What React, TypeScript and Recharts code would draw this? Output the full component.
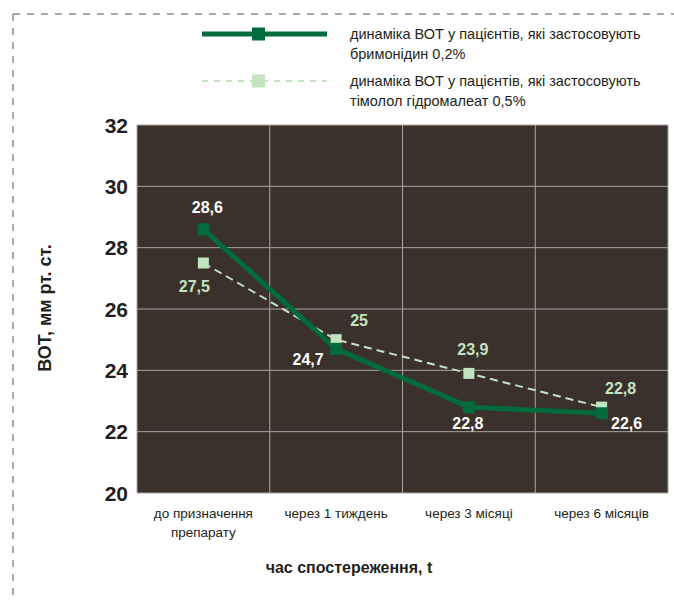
import { LineChart, Line, XAxis, YAxis, CartesianGrid, LabelList } from 'recharts'

const categories = ['до призначення|препарату', 'через 1 тиждень', 'через 3 місяці', 'через 6 місяців']
const brimonidine = [28.6, 24.7, 22.8, 22.6]
const timolol = [27.5, 25, 23.9, 22.8]
const yTicks = [20, 22, 24, 26, 28, 30, 32]
const legendLines = [
  ['динаміка ВОТ у пацієнтів, які застосовують', 'бримонідин 0,2%'],
  ['динаміка ВОТ у пацієнтів, які застосовують', 'тімолол гідромалеат 0,5%'],
]

const FONT = '"Liberation Sans", Arial, sans-serif'
const DARK = '#006b3d'
const LIGHT = '#c4e3c0'
const TEXT = '#231f20'

const data = categories.map((c, i) => ({ cat: c, s1: brimonidine[i], s2: timolol[i] }))

// label offsets (relative to the point) so labels sit like in the original
const s1Offsets = [[4, -22], [-28, 11], [-1, 16], [25, 10]]
const s2Offsets = [[-9, 23], [23, -19], [4, -24], [19, -19]]

const fmt = (v: number) => String(v).replace('.', ',')

const makeLabel = (offsets: number[][], color: string) => (props: any) => {
  const { x, y, value, index } = props
  const [dx, dy] = offsets[index] || [0, -15]
  return (
    <text x={x + dx} y={y + dy} fill={color} fontSize={16} fontWeight="bold" fontFamily={FONT}
      textAnchor="middle" dominantBaseline="central">
      {fmt(value)}
    </text>
  )
}

const SquareDot = (size: number, color: string) => (props: any) => {
  const { cx, cy, index } = props
  if (cx == null || cy == null) return null
  return <rect key={index} x={cx - size / 2} y={cy - size / 2} width={size} height={size} fill={color} />
}

const XTick = (props: any) => {
  const { x, y, payload } = props
  const parts = String(payload.value).split('|')
  return (
    <g>
      {parts.map((p, i) => (
        <text key={i} x={x} y={y + 17 + i * 19} textAnchor="middle" fontSize={13.5} fill={TEXT} fontFamily={FONT}>
          {p}
        </text>
      ))}
    </g>
  )
}

const YTick = (props: any) => {
  const { x, y, payload } = props
  return (
    <text x={x - 1} y={y} textAnchor="end" dominantBaseline="central" fontSize={21} fontWeight="bold"
      fill={TEXT} fontFamily={FONT}>
      {payload.value}
    </text>
  )
}

export default function App() {
  return (
    <div style={{ position: 'absolute', left: 0, top: 0, width: 674, height: 601, background: '#fff' }}>
      <svg width={674} height={601} style={{ position: 'absolute', left: 0, top: 0 }}>
        <line x1={13} x2={674} y1={14} y2={14} stroke="#555" strokeWidth={1} strokeDasharray="7 7" />
        <line x1={13} x2={13} y1={14} y2={601} stroke="#555" strokeWidth={1} strokeDasharray="7 7" />
        {legendLines.map((lines, i) => {
          const y = 34 + i * 47
          return (
            <g key={i}>
              <line x1={202} x2={327} y1={y} y2={y} stroke={i === 0 ? DARK : LIGHT}
                strokeWidth={i === 0 ? 5 : 2} strokeDasharray={i === 0 ? undefined : '6 6'} />
              <rect x={252} y={y - 6.5} width={13} height={13} fill={i === 0 ? DARK : LIGHT} />
              {lines.map((t, j) => (
                <text key={j} x={350} y={y + j * 20} dominantBaseline="central" fontSize={14.5} fill={TEXT}
                  fontFamily={FONT}>
                  {t}
                </text>
              ))}
            </g>
          )
        })}
        <text x={349} y={567} textAnchor="middle" dominantBaseline="central" fontSize={16} fontWeight="bold"
          fill={TEXT} fontFamily={FONT}>
          час спостереження, t
        </text>
        <text transform="translate(45,308) rotate(-90)" textAnchor="middle" dominantBaseline="central"
          fontSize={18} fontWeight="bold" fill={TEXT} fontFamily={FONT}>
          ВОТ, мм рт. ст.
        </text>
      </svg>
      <LineChart width={674} height={601} data={data} margin={{ top: 125, right: 6, left: 0, bottom: 0 }}
        style={{ position: 'absolute', left: 0, top: 0 }}>
        <CartesianGrid fill="#3b312c" fillOpacity={1} stroke="#aaa5a1" strokeWidth={1}
          verticalCoordinatesGenerator={({ offset }: any) =>
            [0, 1, 2, 3, 4].map(i => offset.left + (offset.width * i) / 4)} />
        <XAxis dataKey="cat" scale="band" height={108} axisLine={false} tickLine={false} tick={<XTick />}
          interval={0} />
        <YAxis width={137} domain={[20, 32]} ticks={yTicks} axisLine={false} tickLine={false} tick={<YTick />} />
        <Line dataKey="s2" stroke={LIGHT} strokeWidth={2} strokeDasharray="8 5" isAnimationActive={false}
          dot={SquareDot(11, LIGHT)} activeDot={false}>
          <LabelList dataKey="s2" content={makeLabel(s2Offsets, LIGHT)} />
        </Line>
        <Line dataKey="s1" stroke={DARK} strokeWidth={5} isAnimationActive={false}
          dot={SquareDot(12, DARK)} activeDot={false}>
          <LabelList dataKey="s1" content={makeLabel(s1Offsets, '#ffffff')} />
        </Line>
      </LineChart>
    </div>
  )
}
